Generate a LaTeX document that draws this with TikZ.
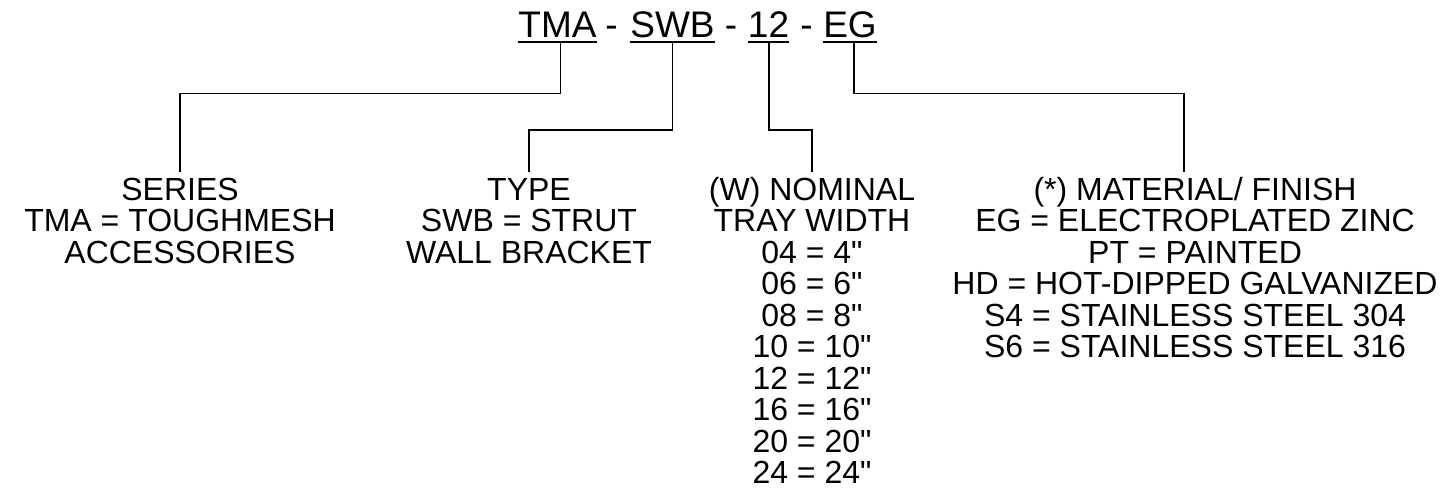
\documentclass[tikz,border=0pt]{standalone}
\usepackage{fontspec}
\setmainfont{Liberation Sans}
\newcommand{\inch}{\textquotedbl}
\begin{document}
\begin{tikzpicture}[x=1pt,y=-1pt,
  ttl/.style={font=\fontsize{37}{37}\selectfont, inner sep=0pt, anchor=base},
  blk/.style={font=\fontsize{32}{31.5}\selectfont, inner sep=0pt, anchor=north, align=center},
  conn/.style={line width=1.3pt, line cap=rect},
  uline/.style={line width=2.4pt}]
\useasboundingbox (0,0) rectangle (1454,489);
% title words
\node[ttl] (t1) at (557.5,37.3) {TMA};
\node[ttl] (h1) at (611.5,37.3) {-};
\node[ttl] (t2) at (672.5,37.3) {SWB};
\node[ttl] (h2) at (731,37.3) {-};
\node[ttl] (t3) at (768.5,37.3) {12};
\node[ttl] (h3) at (806.5,37.3) {-};
\node[ttl] (t4) at (850,37.3) {EG};
\foreach \w in {t1,t2,t3,t4}
  \draw[uline] ([yshift=-4.7pt]\w.base west) -- ([yshift=-4.7pt]\w.base east);
% blocks
\def\topstrut{\rule{0pt}{28.3pt}}
\node[blk] (series) at (180,171.7) {\topstrut SERIES\\TMA = TOUGHMESH\\ACCESSORIES};
\node[blk] (type) at (529,171.7) {\topstrut TYPE\\SWB = STRUT\\WALL BRACKET};
\node[blk] (nom) at (812,171.7) {\topstrut (W) NOMINAL\\TRAY WIDTH\\04 = 4\inch\\06 = 6\inch\\08 = 8\inch\\10 = 10\inch\\12 = 12\inch\\16 = 16\inch\\20 = 20\inch\\24 = 24\inch};
\node[blk] (mat) at (1195,171.7) {\topstrut (*) MATERIAL/ FINISH\\EG = ELECTROPLATED ZINC\\PT = PAINTED\\HD = HOT-DIPPED GALVANIZED\\S4 = STAINLESS STEEL 304\\S6 = STAINLESS STEEL 316};
\coordinate (mc) at (1184,171.7);
% connectors
\draw[conn] ([xshift=3.2pt,yshift=-4.7pt]t1.base) -- ++(0,51.3) -| (series.north);
\draw[conn] ([yshift=-4.7pt]t2.base) -- ++(0,88) -| (type.north);
\draw[conn] ([xshift=0.5pt,yshift=-4.7pt]t3.base) -- ++(0,88) -| (nom.north);
\draw[conn] ([xshift=4pt,yshift=-4.7pt]t4.base) -- ++(0,51.3) -| (mc);
\end{tikzpicture}
\end{document}
